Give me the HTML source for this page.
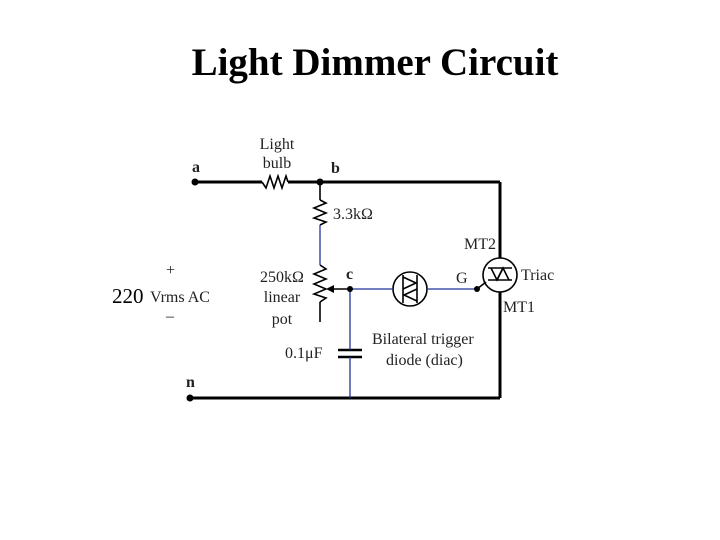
<!DOCTYPE html>
<html><head><style>body{margin:0;background:#fff}svg{display:block}</style></head><body>
<svg width="720" height="540" xmlns="http://www.w3.org/2000/svg" font-family="Liberation Serif, serif">
<text x="375" y="75" font-size="39" font-weight="bold" text-anchor="middle">Light Dimmer Circuit</text>
<g stroke="#000" stroke-width="3" fill="none">
<line x1="195" y1="182" x2="262" y2="182"/><line x1="288" y1="182" x2="500" y2="182"/>
<line x1="500" y1="182" x2="500" y2="258"/><line x1="500" y1="292" x2="500" y2="398"/>
<line x1="190" y1="398" x2="500" y2="398"/>
</g>
<g stroke="#000" stroke-width="1.6" fill="none">
<polyline points="262,182 266,188 270,176 274,188 278,176 282,188 286,176 288,182"/>
<line x1="320" y1="182" x2="320" y2="200"/>
<polyline points="320,200 326,203 314,208 326,213 314,218 326,222 320,225"/>
<polyline points="320,265 326,269 314,274 326,279 314,284 326,289 314,294 326,298 320,302"/>
<line x1="320" y1="302" x2="320" y2="322"/>
<line x1="330" y1="289" x2="350" y2="289"/>
<line x1="338" y1="350" x2="362" y2="350" stroke-width="2.5"/><line x1="338" y1="357" x2="362" y2="357" stroke-width="2.5"/>
<circle cx="410" cy="289" r="17"/>
<line x1="403" y1="275" x2="403" y2="303"/><line x1="417" y1="275" x2="417" y2="303"/>
<polyline points="403,277 416,283 403,289"/>
<polyline points="417,289 404,295 417,301"/>
<circle cx="500" cy="275" r="17"/>
<line x1="488" y1="268" x2="512" y2="268"/><line x1="488" y1="280" x2="512" y2="280"/>
<polyline points="491,268 497,280 503,268"/><polyline points="497,280 503,268 509,280"/>
<line x1="477" y1="289" x2="486" y2="282"/>
</g>
<polygon points="326,289 334,285 334,293" fill="#000"/>
<g stroke="#223399" stroke-width="1.3" fill="none">
<line x1="320" y1="225" x2="320" y2="265"/>
<line x1="350" y1="289" x2="393" y2="289"/><line x1="427" y1="289" x2="477" y2="289"/>
<line x1="350" y1="289" x2="350" y2="350"/><line x1="350" y1="357" x2="350" y2="398"/>
</g>
<g fill="#000"><circle cx="195" cy="182" r="3.5"/><circle cx="320" cy="182" r="3.5"/><circle cx="350" cy="289" r="3"/><circle cx="477" cy="289" r="3"/><circle cx="190" cy="398" r="3.5"/></g>
<g font-size="16" fill="#222">
<text x="277" y="149" text-anchor="middle">Light</text><text x="277" y="168" text-anchor="middle">bulb</text>
<text x="192" y="172" font-weight="bold">a</text><text x="331" y="173" font-weight="bold">b</text>
<text x="346" y="279" font-weight="bold">c</text><text x="186" y="387" font-weight="bold">n</text>
<text x="333" y="219">3.3kΩ</text>
<text x="282" y="282" text-anchor="middle">250kΩ</text><text x="282" y="302" text-anchor="middle">linear</text><text x="282" y="324" text-anchor="middle">pot</text>
<text x="285" y="358">0.1μF</text>
<text x="372" y="344">Bilateral trigger</text><text x="386" y="365">diode (diac)</text>
<text x="464" y="249">MT2</text><text x="456" y="283">G</text><text x="521" y="280">Triac</text><text x="503" y="312">MT1</text>
<text x="150" y="302">Vrms AC</text><text x="166" y="275">+</text><text x="166" y="321">–</text>
</g>
<text x="112" y="303" font-size="21">220</text>
</svg>
</body></html>
